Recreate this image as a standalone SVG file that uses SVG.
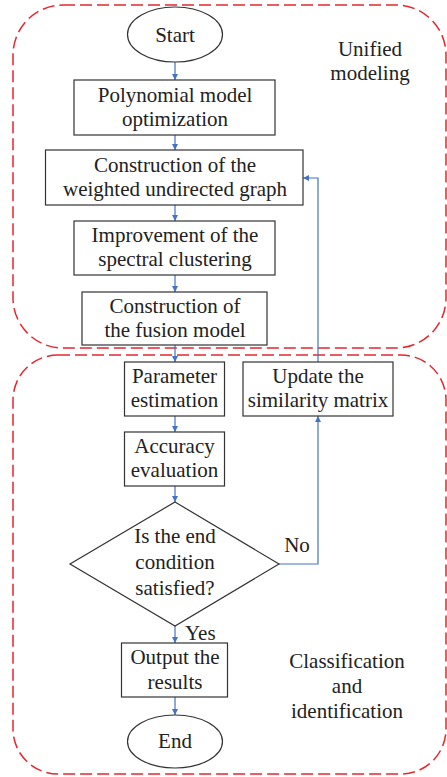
<svg xmlns="http://www.w3.org/2000/svg" width="447" height="777" viewBox="0 0 447 777">
<style>
.n{fill:#fff;stroke:#333;stroke-width:1.2}
.t{font-family:"Liberation Serif","Times New Roman",serif;font-size:21px;fill:#222;text-anchor:middle}
.r{fill:none;stroke:#e8262e;stroke-width:1.5;stroke-dasharray:12 5}
.c{fill:none;stroke:#4472c4;stroke-width:1.2}
</style>
<defs>
<marker id="a" viewBox="0 0 10 10" refX="10" refY="5" markerWidth="6" markerHeight="6" markerUnits="userSpaceOnUse" orient="auto">
<path d="M0,0L10,5L0,10z" fill="#4472c4"/>
</marker>
</defs>
<g id="regions">
<rect class="r" x="13" y="5" width="433" height="343" rx="50" ry="50"/>
<rect class="r" x="13" y="355" width="433" height="419" rx="45" ry="45"/>
<text class="t" x="370" y="56">Unified</text>
<text class="t" x="370" y="80">modeling</text>
<text class="t" x="347" y="668">Classification</text>
<text class="t" x="347" y="693">and</text>
<text class="t" x="347" y="718">identification</text>
</g>
<g id="connectors">
<line class="c" x1="175" y1="62" x2="175" y2="80" marker-end="url(#a)"/>
<line class="c" x1="175" y1="135" x2="175" y2="150" marker-end="url(#a)"/>
<line class="c" x1="175" y1="205" x2="175" y2="221" marker-end="url(#a)"/>
<line class="c" x1="175" y1="275" x2="175" y2="292" marker-end="url(#a)"/>
<line class="c" x1="175" y1="345" x2="175" y2="362" marker-end="url(#a)"/>
<line class="c" x1="175" y1="416" x2="175" y2="432" marker-end="url(#a)"/>
<line class="c" x1="175" y1="486" x2="175" y2="502" marker-end="url(#a)"/>
<line class="c" x1="175" y1="626" x2="175" y2="643" marker-end="url(#a)"/>
<line class="c" x1="175" y1="697" x2="175" y2="715" marker-end="url(#a)"/>
<polyline class="c" points="279,564 318,564 318,416" marker-end="url(#a)"/>
<polyline class="c" points="318,362 318,178 303,178" marker-end="url(#a)"/>
<text class="t" x="297" y="552">No</text>
<text class="t" x="185" y="640" style="text-anchor:start">Yes</text>
</g>
<g id="start">
<ellipse class="n" cx="175" cy="34.5" rx="47.5" ry="27.5"/>
<text class="t" x="175" y="42">Start</text>
</g>
<g id="poly">
<rect class="n" x="74" y="80" width="201" height="55"/>
<text class="t" x="175" y="101.5">Polynomial model</text>
<text class="t" x="175" y="125.5">optimization</text>
</g>
<g id="graph">
<rect class="n" x="45.5" y="150" width="257.5" height="55"/>
<text class="t" x="175" y="171.5">Construction of the</text>
<text class="t" x="175" y="195.5">weighted undirected graph</text>
</g>
<g id="spectral">
<rect class="n" x="74" y="221" width="201" height="54"/>
<text class="t" x="175" y="242">Improvement of the</text>
<text class="t" x="175" y="266">spectral clustering</text>
</g>
<g id="fusion">
<rect class="n" x="82" y="292" width="185" height="53"/>
<text class="t" x="175" y="312.5">Construction of</text>
<text class="t" x="175" y="336.5">the fusion model</text>
</g>
<g id="param">
<rect class="n" x="124.5" y="362" width="100" height="54"/>
<text class="t" x="174.5" y="383">Parameter</text>
<text class="t" x="174.5" y="407">estimation</text>
</g>
<g id="update">
<rect class="n" x="243" y="362" width="150" height="54"/>
<text class="t" x="318" y="383">Update the</text>
<text class="t" x="318" y="407">similarity matrix</text>
</g>
<g id="accuracy">
<rect class="n" x="124.5" y="432" width="100" height="54"/>
<text class="t" x="174.5" y="453">Accuracy</text>
<text class="t" x="174.5" y="477">evaluation</text>
</g>
<g id="decision">
<polygon class="n" points="175,502 279,564 175,626 70,564"/>
<text class="t" x="175" y="543">Is the end</text>
<text class="t" x="175" y="569">condition</text>
<text class="t" x="175" y="595">satisfied?</text>
</g>
<g id="output">
<rect class="n" x="121.5" y="643" width="106" height="54"/>
<text class="t" x="175" y="664">Output the</text>
<text class="t" x="175" y="689">results</text>
</g>
<g id="end">
<ellipse class="n" cx="175" cy="741.5" rx="47.5" ry="26.5"/>
<text class="t" x="175" y="748">End</text>
</g>
</svg>
